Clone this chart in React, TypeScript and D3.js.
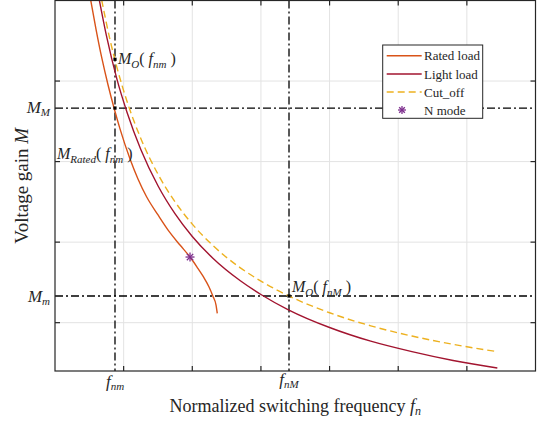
import React from "react";
import * as d3 from "d3";

// ---- data (normalized units) ----
const ratedX = [0.52, 0.597, 0.685, 0.772, 0.86, 0.947, 1.093, 1.209, 1.336, 1.501, 1.675, 1.821, 1.967, 2.069, 2.161, 2.244, 2.302, 2.346, 2.364];
const ratedY = [5.006, 4.646, 4.274, 3.954, 3.665, 3.406, 3.032, 2.784, 2.56, 2.337, 2.117, 1.964, 1.815, 1.691, 1.571, 1.443, 1.325, 1.219, 1.116];

const lightX = [0.631, 0.75, 0.9, 1.05, 1.25, 1.5, 1.75, 2.0, 2.3, 2.7, 3.0, 3.4, 4.0, 4.6, 5.2, 5.8, 6.444];
const lightY = [5.07, 4.56, 4.03, 3.61, 3.15, 2.7, 2.35, 2.07, 1.8, 1.52, 1.35, 1.16, 0.94, 0.77, 0.64, 0.53, 0.437];

const cutX = [0.68, 0.8, 0.9, 1.05, 1.25, 1.5, 1.75, 2.0, 2.3, 2.7, 3.0, 3.409, 4.0, 4.6, 5.2, 5.8, 6.444];
const cutY = [5.006, 4.518, 4.176, 3.746, 3.287, 2.844, 2.499, 2.224, 1.958, 1.681, 1.516, 1.331, 1.123, 0.961, 0.834, 0.731, 0.64];

const nModeX = [1.967];
const nModeY = [1.815];

const xTicks = [1, 2, 3, 4, 5, 6];
const yTicks = [1, 2, 3, 4];

const fnm = 0.874;
const fnM = 3.409;
const MM = 3.665;
const Mm = 1.331;
const MOfnm = 4.27;

const legendLabels = ["Rated load", "Light load", "Cut_off", "N mode"];

const C_RATED = "#D95319";
const C_LIGHT = "#A2142F";
const C_CUT = "#EDB120";
const C_N = "#7E2F8E";
const FONT = '"Liberation Serif", "Times New Roman", Times, "DejaVu Serif", serif';

export default function App() {
  const W = 541, H = 423;
  const x = d3.scaleLinear().domain([0, 7]).range([55, 535.5]);
  const y = d3.scaleLinear().domain([0.4, 5]).range([371, 0.5]);
  const [x0, x1] = x.range();
  const [y0, y1] = y.range();

  const line = d3
    .line<[number, number]>()
    .x((d) => x(d[0]))
    .y((d) => y(d[1]))
    .curve(d3.curveMonotoneX);

  const zip = (a: number[], b: number[]) => a.map((v, i) => [v, b[i]] as [number, number]);

  const dashDot = "8,3,2,3";
  const star = (cx: number, cy: number, r: number, color: string, key?: string) => (
    <g key={key} stroke={color} strokeWidth={1.3}>
      {[0, 45, 90, 135].map((a) => {
        const rad = (a * Math.PI) / 180;
        return (
          <line
            key={a}
            x1={cx - r * Math.cos(rad)}
            y1={cy - r * Math.sin(rad)}
            x2={cx + r * Math.cos(rad)}
            y2={cy + r * Math.sin(rad)}
          />
        );
      })}
    </g>
  );

  const legX = 382.7, legY = 45, legW = 100, legH = 73.3;
  const rowY = [55.7, 74, 92, 110];
  const txt = { fontFamily: FONT };

  return (
    <svg width={W} height={H} style={{ position: "absolute", left: 0, top: 0, background: "#fff", fontFamily: FONT }}>
      <defs>
        <clipPath id="plotclip">
          <rect x={x0} y={y1} width={x1 - x0} height={y0 - y1} />
        </clipPath>
      </defs>
      <rect x={0} y={0} width={W} height={H} fill="#fff" />
      {/* grid */}
      <g stroke="#e3e3e3" strokeWidth={1}>
        {xTicks.map((t) => (
          <line key={"gx" + t} x1={x(t)} x2={x(t)} y1={y1} y2={y0} />
        ))}
        {yTicks.map((t) => (
          <line key={"gy" + t} x1={x0} x2={x1} y1={y(t)} y2={y(t)} />
        ))}
      </g>
      {/* reference dash-dot lines */}
      <g stroke="#000" strokeWidth={1.3} strokeDasharray={dashDot} fill="none">
        <line x1={x(fnm)} x2={x(fnm)} y1={y1} y2={y0} />
        <line x1={x(fnM)} x2={x(fnM)} y1={y1} y2={y0} />
        <line x1={x0} x2={x1} y1={y(MM)} y2={y(MM)} />
        <line x1={x0} x2={x1} y1={y(Mm)} y2={y(Mm)} />
      </g>
      {/* curves */}
      <g clipPath="url(#plotclip)" fill="none">
        <path d={line(zip(ratedX, ratedY)) || ""} stroke={C_RATED} strokeWidth={1.4} />
        <path d={line(zip(lightX, lightY)) || ""} stroke={C_LIGHT} strokeWidth={1.4} />
        <path d={line(zip(cutX, cutY)) || ""} stroke={C_CUT} strokeWidth={1.4} strokeDasharray="7,4" />
      </g>
      {nModeX.map((v, i) => star(x(v), y(nModeY[i]), 4.5, C_N, "n" + i))}
      {/* key points */}
      <g fill="#000">
        {[
          [fnm, MOfnm],
          [fnm, MM],
          [fnM, Mm],
        ].map(([a, b], i) => (
          <rect key={i} x={x(a) - 1.6} y={y(b) - 1.6} width={3.2} height={3.2} />
        ))}
      </g>
      {/* axes box */}
      <g stroke="#262626" strokeWidth={1.2} fill="none">
        <rect x={x0} y={y1} width={x1 - x0} height={y0 - y1} />
        {xTicks.map((t) => (
          <g key={"tx" + t}>
            <line x1={x(t)} x2={x(t)} y1={y0} y2={y0 - 5} />
            <line x1={x(t)} x2={x(t)} y1={y1} y2={y1 + 5} />
          </g>
        ))}
        {yTicks.map((t) => (
          <g key={"ty" + t}>
            <line x1={x0} x2={x0 + 5} y1={y(t)} y2={y(t)} />
            <line x1={x1} x2={x1 - 5} y1={y(t)} y2={y(t)} />
          </g>
        ))}
      </g>
      {/* annotations */}
      <g fill="#262626" fontSize={16} style={txt}>
        <text x={x(fnm) + 3} y={y(MOfnm) + 5} style={txt}>
          <tspan fontStyle="italic">M</tspan>
          <tspan fontStyle="italic" fontSize={11} dy={4}>O</tspan>
          <tspan dy={-4}>(</tspan>
          <tspan fontStyle="italic"> f</tspan>
          <tspan fontStyle="italic" fontSize={11} dy={4}>nm</tspan>
          <tspan dy={-4}>  )</tspan>
        </text>
        <text x={57} y={159} style={txt}>
          <tspan fontStyle="italic">M</tspan>
          <tspan fontStyle="italic" fontSize={11} dy={4}>Rated</tspan>
          <tspan dy={-4}>(</tspan>
          <tspan fontStyle="italic"> f</tspan>
          <tspan fontStyle="italic" fontSize={11} dy={4}>nm</tspan>
          <tspan dy={-4}>  )</tspan>
        </text>
        <text x={x(fnM) + 3} y={y(Mm) - 4} style={txt}>
          <tspan fontStyle="italic">M</tspan>
          <tspan fontStyle="italic" fontSize={11} dy={4}>O</tspan>
          <tspan dy={-4}>(</tspan>
          <tspan fontStyle="italic"> f</tspan>
          <tspan fontStyle="italic" fontSize={11} dy={4}>nM</tspan>
          <tspan dy={-4}>  )</tspan>
        </text>
      </g>
      {/* y tick labels */}
      <g fill="#262626" fontSize={17} fontStyle="italic" style={txt}>
        <text x={x0 - 5} y={y(MM) + 5} textAnchor="end" style={txt}>
          <tspan>M</tspan>
          <tspan fontSize={11} dy={3}>M</tspan>
        </text>
        <text x={x0 - 5} y={y(Mm) + 6} textAnchor="end" style={txt}>
          <tspan>M</tspan>
          <tspan fontSize={11} dy={3}>m</tspan>
        </text>
      </g>
      {/* x tick labels */}
      <g fill="#262626" fontSize={17} fontStyle="italic" style={txt}>
        <text x={x(fnm)} y={387} textAnchor="middle" style={txt}>
          <tspan>f</tspan>
          <tspan fontSize={11} dy={3}>nm</tspan>
        </text>
        <text x={x(fnM)} y={385} textAnchor="middle" style={txt}>
          <tspan>f</tspan>
          <tspan fontSize={11} dy={3}>nM</tspan>
        </text>
      </g>
      {/* axis titles */}
      <text x={(x0 + x1) / 2} y={412} textAnchor="middle" fontSize={18} fill="#262626" style={txt}>
        Normalized switching frequency <tspan fontStyle="italic">f</tspan>
        <tspan fontStyle="italic" fontSize={12} dy={3}>n</tspan>
      </text>
      <text
        transform={`translate(28, ${(y0 + y1) / 2}) rotate(-90)`}
        textAnchor="middle"
        fontSize={19}
        fill="#262626"
        style={txt}
      >
        Voltage gain <tspan fontStyle="italic">M</tspan>
      </text>
      {/* legend */}
      <g>
        <rect x={legX} y={legY} width={legW} height={legH} fill="#fff" stroke="#262626" strokeWidth={1} />
        {legendLabels.map((lab, i) => {
          const yy = rowY[i];
          let sym: React.ReactNode = null;
          if (i === 0) sym = <line x1={386.7} x2={421.7} y1={yy} y2={yy} stroke={C_RATED} strokeWidth={1.4} />;
          if (i === 1) sym = <line x1={386.7} x2={421.7} y1={yy} y2={yy} stroke={C_LIGHT} strokeWidth={1.4} />;
          if (i === 2)
            sym = (
              <line x1={386.7} x2={421.7} y1={yy} y2={yy} stroke={C_CUT} strokeWidth={1.4} strokeDasharray="7,4" />
            );
          if (i === 3) sym = star(402, yy, 4, C_N);
          return (
            <g key={lab}>
              {sym}
              <text x={424} y={yy + 4.5} fontSize={13} fill="#262626" style={txt}>
                {lab}
              </text>
            </g>
          );
        })}
      </g>
    </svg>
  );
}
